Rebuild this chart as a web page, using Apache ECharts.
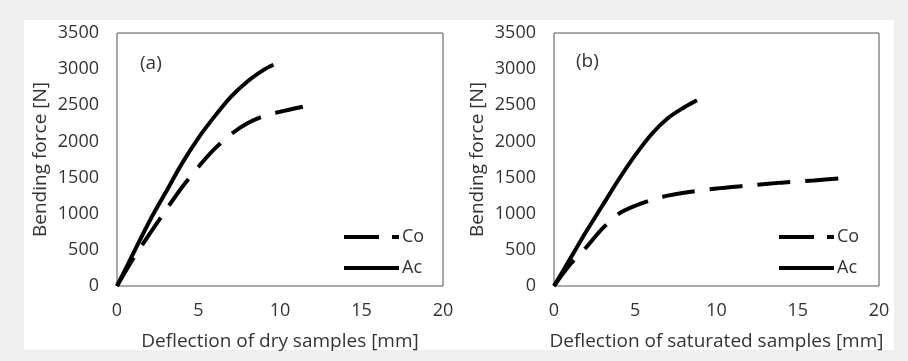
<!DOCTYPE html>
<html>
<head>
<meta charset="utf-8">
<script src="https://cdn.jsdelivr.net/npm/echarts@6/dist/echarts.min.js"></script>
<style>
  html, body { margin: 0; padding: 0; background: #efefef; }
  #wrap { position: relative; width: 908px; height: 361px; }
  #panel { position: absolute; left: 24px; top: 20px; width: 870px; height: 330px; background: #fff; }
  #chart { position: absolute; left: 0; top: 0; width: 908px; height: 361px; }
</style>
</head>
<body>
<div id="wrap">
  <div id="panel"></div>
  <div id="chart"></div>
</div>
<script>
// (a) dry samples, deflection [mm] / force [N]
const dryCo = [[0, 0], [1, 380], [2, 720], [3, 1050], [4, 1370], [5, 1650], [6, 1900], [7, 2100], [8, 2250], [9, 2350], [10, 2410], [11.4, 2480]];
const dryAc = [[0, 0], [1, 450], [2, 900], [3, 1300], [4, 1700], [5, 2050], [6, 2350], [7, 2620], [8, 2830], [9, 2990], [9.6, 3060]];
// (b) saturated samples
const satCo = [[0, 0], [1, 300], [2, 540], [3, 800], [4, 1000], [5, 1110], [6, 1190], [7, 1250], [8, 1290], [10, 1350], [12, 1390], [14, 1430], [16, 1460], [17.6, 1490]];
const satAc = [[0, 0], [1, 380], [2, 760], [3, 1120], [4, 1480], [5, 1810], [6, 2100], [7, 2320], [8, 2470], [8.8, 2570]];

const xTitles = ["Deflection of dry samples [mm]", "Deflection of saturated samples [mm]"];
const yTitle = "Bending force [N]";
const panelTags = ["(a)", "(b)"];

const txt = "#333";
const font = "Open Sans";
const dash = [33, 15];

const chart = echarts.init(document.getElementById("chart"));

function xAxis(i) {
  return {
    type: "value", gridIndex: i, min: 0, max: 20, interval: 5,
    name: xTitles[i], nameLocation: "middle", nameGap: 46,
    nameTextStyle: { color: txt, fontSize: 19, fontFamily: font },
    axisLine: { show: false }, axisTick: { show: false }, splitLine: { show: false },
    axisLabel: { color: txt, fontSize: 18, fontFamily: font, margin: 16 }
  };
}
function yAxis(i) {
  return {
    type: "value", gridIndex: i, min: 0, max: 3500, interval: 500,
    name: yTitle, nameLocation: "middle", nameGap: 67,
    nameTextStyle: { color: txt, fontSize: 19, fontFamily: font },
    axisLine: { show: false }, axisTick: { show: false }, splitLine: { show: false },
    axisLabel: { color: txt, fontSize: 18, fontFamily: font, margin: 18, formatter: (v) => String(v) }
  };
}
function line(name, data, i, dashed) {
  return {
    name: name, type: "line", xAxisIndex: i, yAxisIndex: i,
    data: data, smooth: 0.3, symbol: "none", animation: false,
    lineStyle: { color: "#000", width: 4, type: dashed ? dash : "solid" },
    itemStyle: { color: "#000" }
  };
}
function legend(left) {
  return {
    left: left, top: 228, orient: "vertical", padding: 0,
    itemWidth: 55, itemHeight: 14, itemGap: 13,
    data: [
      { name: "Co", lineStyle: { color: "#000", width: 4, type: [35, 13] } },
      { name: "Ac", lineStyle: { color: "#000", width: 4, type: "solid" } }
    ],
    itemStyle: { color: "transparent", borderColor: "transparent", borderWidth: 0 },
    textStyle: { color: txt, fontSize: 18, fontFamily: font, padding: [0, 0, 0, -2] }
  };
}

chart.setOption({
  animation: false,
  title: [
    { text: panelTags[0], left: 135, top: 49, textStyle: { color: txt, fontSize: 19, fontWeight: "normal", fontFamily: font } },
    { text: panelTags[1], left: 571, top: 47, textStyle: { color: txt, fontSize: 19, fontWeight: "normal", fontFamily: font } }
  ],
  grid: [
    { left: 117, top: 33, width: 326, height: 253, show: true, borderColor: "#555", borderWidth: 1 },
    { left: 554, top: 33, width: 325, height: 253, show: true, borderColor: "#555", borderWidth: 1 }
  ],
  legend: [legend(342), legend(777)],
  xAxis: [xAxis(0), xAxis(1)],
  yAxis: [yAxis(0), yAxis(1)],
  series: [
    line("Co", dryCo, 0, true),
    line("Ac", dryAc, 0, false),
    line("Co", satCo, 1, true),
    line("Ac", satAc, 1, false)
  ]
});
</script>
</body>
</html>
